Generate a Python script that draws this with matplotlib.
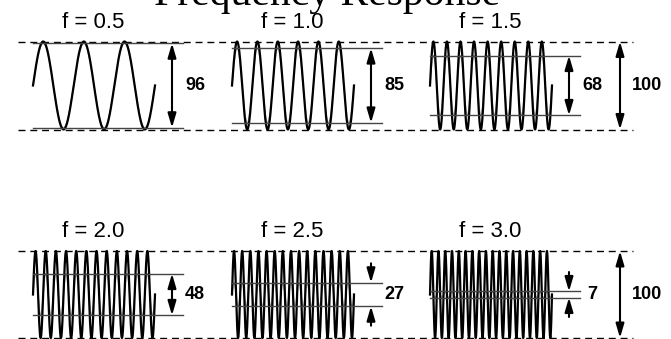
import numpy as np
import matplotlib.pyplot as plt

# data
freqs = [0.5, 1.0, 1.5, 2.0, 2.5, 3.0]
responses = [96, 85, 68, 48, 27, 7]      # output amplitude, % of input
cycles = [3, 6, 9, 12, 15, 18]           # input cycles shown in each panel
arrow_inside = [True, True, True, True, False, False]
full_scale = 100

W, H = 671, 339
fig = plt.figure(figsize=(W / 100, H / 100), dpi=100)

# layout (pixels)
panel_x0 = [33, 232, 430]
wave_w = 122
line_w = 150
rows_px = [(41.5, 129.5), (251, 338)]   # dashed top/bottom of each row
both = '<|-|>,head_length=0.85,head_width=0.25'
one = '-|>,head_length=0.85,head_width=0.25'

for row, (top, bot) in enumerate(rows_px):
    ax = fig.add_axes([0, (H - bot) / H, 1, (bot - top) / H])
    ax.set_xlim(0, W)
    ax.set_ylim(-full_scale / 2, full_scale / 2)
    ax.axis('off')

    for y in (full_scale / 2, -full_scale / 2):
        ax.plot([18, 633], [y, y], color='black', lw=1, dashes=(5, 3.5),
                clip_on=False)

    for col in range(3):
        i = row * 3 + col
        x0 = panel_x0[col]
        r = responses[i] / 2
        t = np.linspace(0, 1, 1200)
        x = x0 + t * wave_w
        # output (attenuated) sine under the full-scale input sine
        ax.plot(x, r * np.sin(2 * np.pi * cycles[i] * t), color='#999999',
                lw=0.9, clip_on=False)
        ax.plot(x, full_scale / 2 * np.sin(2 * np.pi * cycles[i] * t),
                color='black', lw=1.6, clip_on=False)
        for y in (r, -r):
            ax.plot([x0, x0 + line_w], [y, y], color='#444444', lw=1,
                    clip_on=False)

        xa = x0 + 139
        if arrow_inside[i]:
            ax.annotate('', xy=(xa, r), xytext=(xa, -r),
                        arrowprops=dict(arrowstyle=both, color='black', lw=1.5,
                                        shrinkA=0, shrinkB=0))
        else:
            for s in (1, -1):
                ax.annotate('', xy=(xa, s * r), xytext=(0, s * 14),
                            textcoords='offset points',
                            arrowprops=dict(arrowstyle=one, color='black', lw=1.5,
                                            shrinkA=0, shrinkB=0))

        ax.text(x0 + 162, 0, str(responses[i]), ha='center', va='center',
                fontsize=13, fontweight='bold', family='Liberation Sans')
        ax.annotate(f'f = {freqs[i]:.1f}', xy=(x0 + 60, full_scale / 2),
                    xytext=(0, 10), textcoords='offset points', ha='center',
                    va='baseline', fontsize=16, family='Liberation Sans')

    ax.annotate('', xy=(620, full_scale / 2), xytext=(620, -full_scale / 2),
                arrowprops=dict(arrowstyle=both, color='black', lw=1.5,
                                shrinkA=0, shrinkB=0))
    ax.text(647, 0, str(full_scale), ha='center', va='center', fontsize=13,
            fontweight='bold', family='Liberation Sans')

fig.text(0.487, 1 - 5 / H, 'Frequency Response', ha='center', va='baseline',
         fontsize=30, family='Liberation Serif')

fig.savefig('out.png', dpi=100)
